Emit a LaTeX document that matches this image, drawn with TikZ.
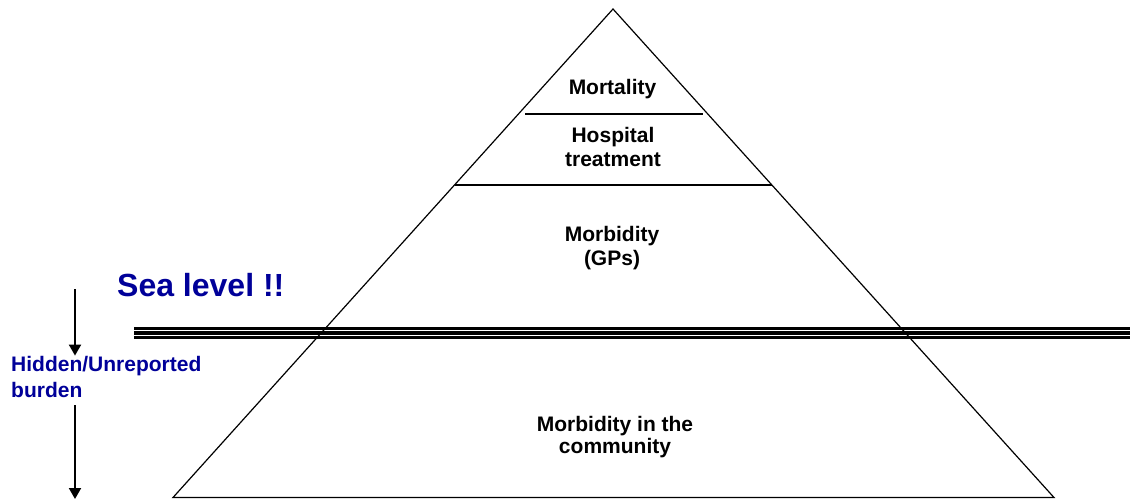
\documentclass[tikz,border=0pt]{standalone}
\usepackage{fontspec}
\setmainfont{Liberation Sans}
\usetikzlibrary{arrows.meta}
\definecolor{seablue}{RGB}{0,0,153}
\begin{document}
\begin{tikzpicture}[x=1pt,y=-1pt,
  edge/.style={draw=black,line width=1.2pt},
  lbl/.style={inner sep=0pt,anchor=base,font=\fontsize{21}{24}\selectfont\bfseries},
  bluelbl/.style={inner sep=0pt,anchor=base west,text=seablue,font=\fontsize{21}{24}\selectfont\bfseries},
  sealine/.style={draw=black,line width=3.2pt},
  downarrow/.style={draw=black,line width=2pt,-{Triangle[width=12pt,length=11pt]}}]
\useasboundingbox (0,0) rectangle (1130,499);
% pyramid
\coordinate (apex) at (613,9);
\coordinate (bl) at (173,497.5);
\coordinate (br) at (1054,497.5);
\draw[edge,line join=miter] (apex) -- (bl) -- (br) -- cycle;
\coordinate (m1) at (525,114);
\coordinate (m2) at (703,114);
\draw[edge] (m1) -- (m2);
\coordinate (h1) at (455,185);
\coordinate (h2) at (772,185);
\draw[edge] (h1) -- (h2);
% sea level
\coordinate (s1a) at (134,328.5);
\coordinate (s1b) at (1130,328.5);
\coordinate (s2a) at (134,333);
\coordinate (s2b) at (1130,333);
\coordinate (s3a) at (134,337.5);
\coordinate (s3b) at (1130,337.5);
\draw[sealine] (s1a) -- (s1b);
\draw[sealine] (s2a) -- (s2b);
\draw[sealine] (s3a) -- (s3b);
% labels
\node[lbl] (mort) at (612.5,94) {Mortality};
\node[lbl] (hosp1) at (613,142) {Hospital};
\node[lbl] (hosp2) at (613,166) {treatment};
\node[lbl] (gp1) at (612,241) {Morbidity};
\node[lbl] (gp2) at (612,265) {(GPs)};
\node[lbl] (com1) at (615,431) {Morbidity in the};
\node[lbl] (com2) at (615,453) {community};
\node[inner sep=0pt,anchor=base west,text=seablue,font=\fontsize{32}{36}\selectfont\bfseries] (sea) at (117,296) {Sea level !!};
\node[bluelbl] (hid1) at (11,371) {Hidden/Unreported};
\node[bluelbl] (hid2) at (11,397) {burden};
% arrows
\coordinate (a1s) at (75,289);
\coordinate (a2e) at (75,499);
\draw[downarrow] (a1s) -- (75,356.5 |- hid1.north);
\draw[downarrow] (75,407 |- hid2.south) ++(0,8) -- (a2e);
\end{tikzpicture}
\end{document}
